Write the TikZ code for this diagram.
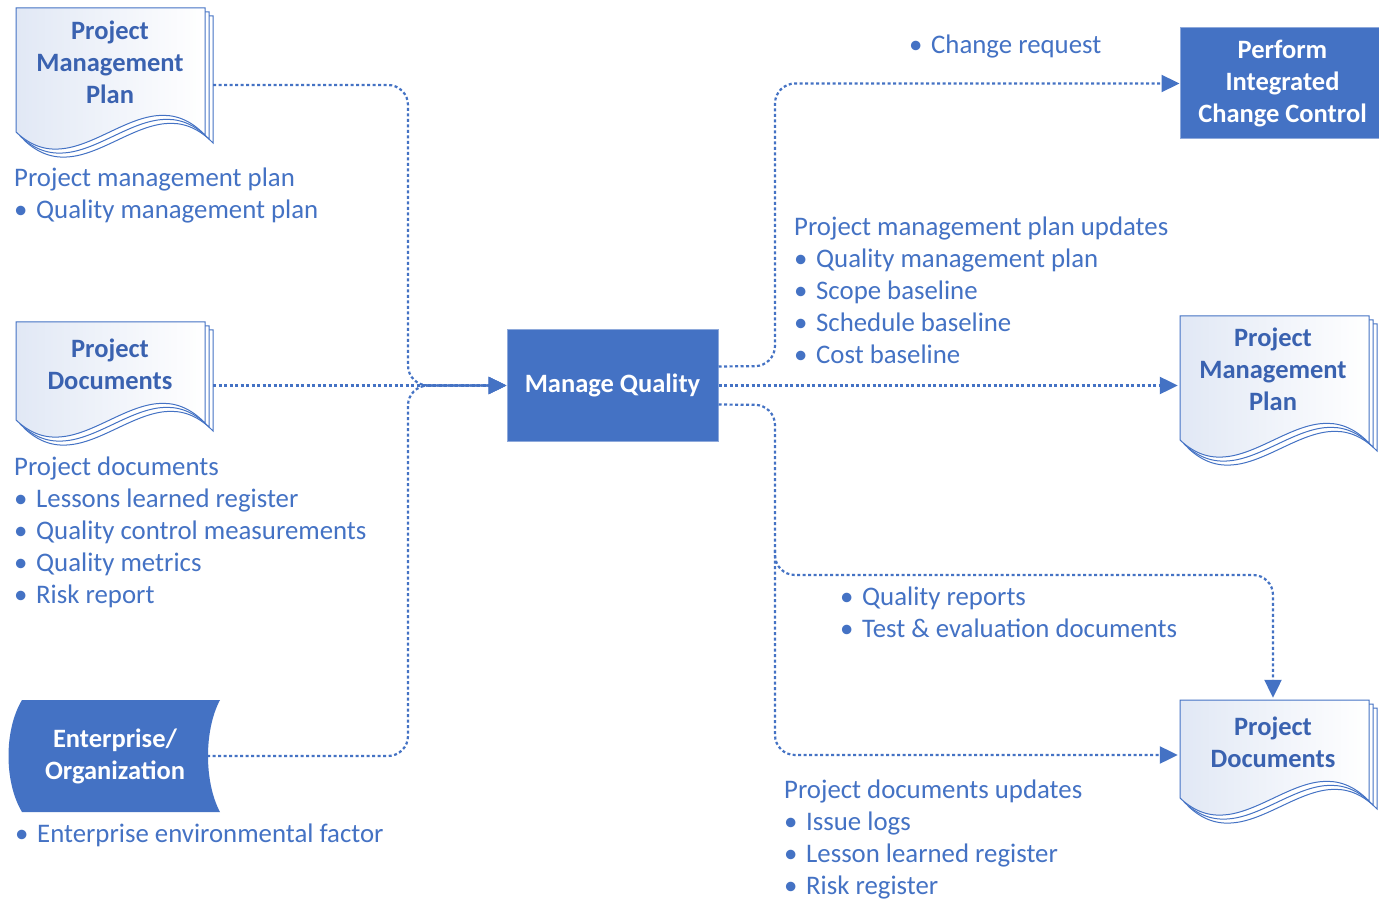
\documentclass[tikz,border=0pt]{standalone}
\usepackage{fontspec}
\setmainfont{Carlito}
\usetikzlibrary{arrows.meta, calc}

\definecolor{qblue}{HTML}{4472C4}
\definecolor{qtext}{HTML}{3A62B0}
\definecolor{pagefill}{HTML}{E1E8F5}
\definecolor{boxedge}{HTML}{8EA9DB}

\newcommand{\bul}{\makebox[22pt][l]{\textbullet}}
% stacked pages with a wavy bottom: x, y of top left, width, height
\newcommand{\docpages}[4]{%
  \foreach \o/\st in {8/backpage, 4/backpage, 0/frontpage} {
    \draw[\st] ({#1+\o},{#2-\o}) -- ({#1+#3+\o},{#2-\o}) -- ({#1+#3+\o},{#2-#4-\o-3})
      .. controls ({#1+2*#3/3+\o},{#2-#4-\o+62}) and ({#1+#3/3+\o},{#2-#4-\o-60}) .. ({#1+\o},{#2-#4-\o}) -- cycle;
  }}

\begin{document}
\begin{tikzpicture}[x=1pt, y=1pt,
        backpage/.style={draw=qblue, fill=white, line width=1pt},
        frontpage/.style={draw=qblue, line width=1pt, left color=pagefill, right color=white},
        doclabel/.style={text=qtext, font=\fontsize{26.5}{32}\bfseries\selectfont, align=center, inner sep=0pt},
        procbox/.style={fill=qblue, draw=boxedge, line width=1pt, text=white, font=\fontsize{26.5}{32}\bfseries\selectfont, align=center, inner sep=0pt},
        note/.style={anchor=north west, inner sep=0pt, align=left, text=qblue, font=\fontsize{26.8}{32}\selectfont},
        flow/.style={qblue, line width=2.2pt, dash pattern=on 3pt off 2.5pt, rounded corners=20pt},
        arrow/.style={flow, -{Triangle[length=18pt, width=17pt]}}
    ]
    \useasboundingbox[fill=white] (0,0) rectangle (1379,-901);

    % Document shapes
    \docpages{16}{-8}{189}{124}
    \docpages{16}{-322}{189}{98}
    \docpages{1180}{-316}{189}{124}
    \docpages{1180}{-700}{189}{98}

    % Enterprise shape
    \fill[qblue] (22,-700) -- (220,-700) .. controls (204,-730) and (204,-782) .. (220,-812)
        -- (22,-812) .. controls (4,-782) and (4,-730) .. (22,-700) -- cycle;

    % Nodes
    \node[doclabel, minimum width=206pt] (pmpIn) at (110,-62) {Project\\Management\\Plan};
    \node[doclabel, minimum width=206pt] (pdIn) at (110,-364) {Project\\Documents};
    \node[doclabel, text=white, minimum width=184pt] (ent) at (115,-756) {Enterprise/\\Organization};
    \node[procbox, minimum width=211pt, minimum height=111pt] (mq) at (612.5,-385.5) {Manage Quality};
    \node[procbox, minimum width=205pt, minimum height=111pt] (picc) at (1282.5,-83.5) {Perform\\Integrated\\Change Control};
    \node[doclabel, minimum width=190pt] (pmpOut) at (1273,-369) {Project\\Management\\Plan};
    \node[doclabel, minimum width=190pt, minimum height=88pt] (pdOut) at (1273,-742) {Project\\Documents};

    % Junctions
    \coordinate (jl) at (408,-385.5);
    \coordinate (ju) at (775,-366);
    \coordinate (jd) at (775,-405);
    \coordinate (jb) at (775,-575);

    % Inputs
    \draw[arrow] ([yshift=-23pt]pmpIn.east) -| (jl) -- (mq.west);
    \draw[arrow] (pdIn.east |- mq.west) -- (mq.west);
    \draw[arrow] (ent.east) -| (jl) -- (mq.west);

    % Outputs
    \draw[arrow] ([yshift=19pt]mq.east) -- (ju) |- (picc.west);
    \draw[arrow] (mq.east) -- (mq.east -| pmpOut.west);
    \draw[arrow] ([yshift=-19pt]mq.east) -- (jd) |- ([yshift=-13pt]pdOut.west);
    \draw[arrow] ($(jb)+(0,25)$) -- (jb) -| (pdOut.north);

    % Notes
    \node[note] (pmpNote) at (14,-168) {Project management plan\\\bul Quality management plan};
    \node[note] (pdNote) at (14,-457) {Project documents\\\bul Lessons learned register\\\bul Quality control measurements\\\bul Quality metrics\\\bul Risk report};
    \node[note] (eefNote) at (15,-824) {\bul Enterprise environmental factor};
    \node[note] (crNote) at (909,-35) {\bul Change request};
    \node[note] (pmpuNote) at (794,-217) {Project management plan updates\\\bul Quality management plan\\\bul Scope baseline\\\bul Schedule baseline\\\bul Cost baseline};
    \node[note] (qrNote) at (840,-587) {\bul Quality reports\\\bul Test \& evaluation documents};
    \node[note] (pduNote) at (784,-780) {Project documents updates\\\bul Issue logs\\\bul Lesson learned register\\\bul Risk register};

\end{tikzpicture}
\end{document}
